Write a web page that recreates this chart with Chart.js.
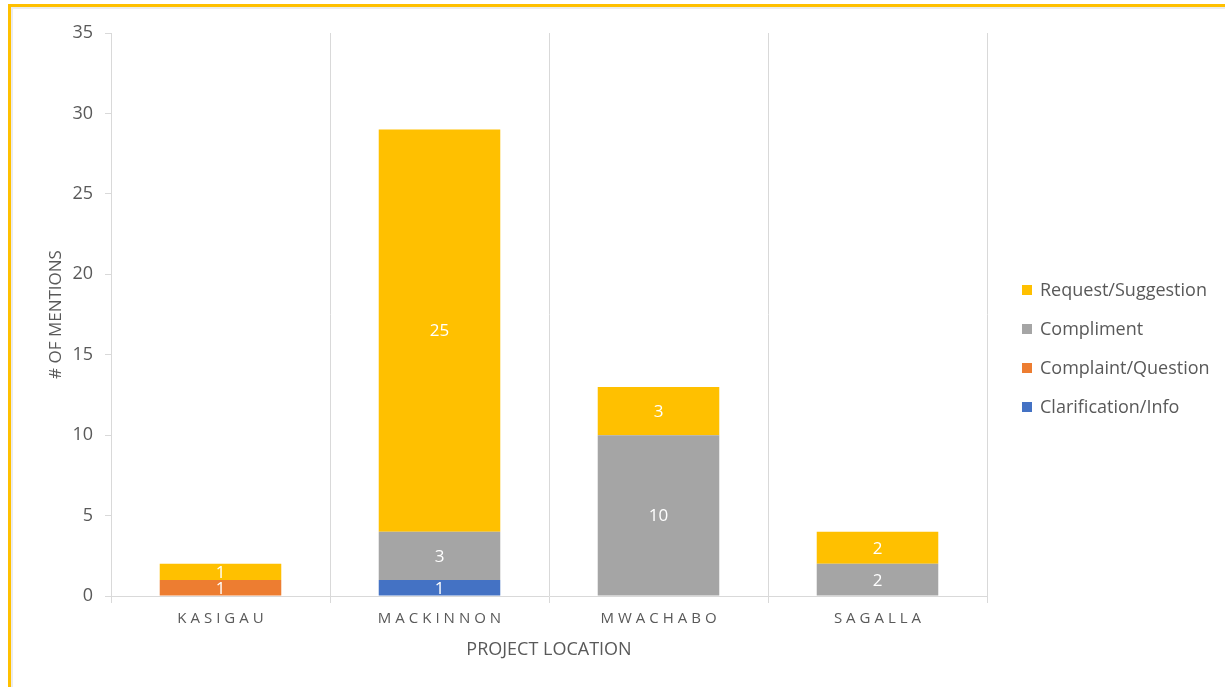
<!DOCTYPE html>
<html>
<head>
<meta charset="utf-8">
<script src="https://cdn.jsdelivr.net/npm/chart.js@4/dist/chart.umd.min.js"></script>
<style>
  html, body { margin: 0; padding: 0; background: #fff; }
  #wrap { position: relative; width: 1225px; height: 687px; overflow: hidden; }
  #frame { position: absolute; left: 8px; top: 4px; right: 0; bottom: 0;
           border-top: 3px solid #FFC000; border-left: 3px solid #FFC000; pointer-events: none; }
  #inner { position: absolute; left: 0; top: 0; right: 0; bottom: 0;
           border-top: 2px solid #ececec; border-left: 2px solid #ececec; }
  #legend { position: absolute; left: 1022px; top: 270px; font-family: 'Open Sans', sans-serif;
            font-size: 18px; color: #595959; }
  #legend .item { height: 39px; line-height: 39px; white-space: nowrap; position: relative; padding-left: 18px; }
  #legend .box { position: absolute; left: 0; top: 15px; width: 10px; height: 10px; }
</style>
</head>
<body>
<div id="wrap">
  <canvas id="myChart"></canvas>
  <div id="legend"></div>
  <div id="frame"><div id="inner"></div></div>
</div>
<script>
// categories and series
var locations = ["KASIGAU", "MACKINNON", "MWACHABO", "SAGALLA"];
var clarification = [0, 1, 0, 0];
var complaint = [1, 0, 0, 0];
var compliment = [0, 3, 10, 2];
var request = [1, 25, 3, 2];
var yTicks = [0, 5, 10, 15, 20, 25, 30, 35];

var textColor = "#595959";
var gridColor = "#d9d9d9";
var fontFamily = "'Open Sans', 'Noto Sans', sans-serif";

Chart.defaults.font.family = fontFamily;
Chart.defaults.color = textColor;

// white value labels in the middle of each segment
const barValues = {
  id: "barValues",
  afterDatasetsDraw(chart) {
    const ctx = chart.ctx;
    ctx.save();
    ctx.fillStyle = "#ffffff";
    ctx.font = "17px " + fontFamily;
    ctx.textAlign = "center";
    ctx.textBaseline = "middle";
    chart.data.datasets.forEach(function (ds, i) {
      const meta = chart.getDatasetMeta(i);
      meta.data.forEach(function (bar, j) {
        const v = ds.data[j];
        if (!v) return;
        ctx.fillText(String(v), bar.x, (bar.y + bar.base) / 2 + 1);
      });
    });
    ctx.restore();
  }
};

const chart = new Chart("myChart", {
  type: "bar",
  data: {
    labels: locations,
    datasets: [
      { label: "Clarification/Info", data: clarification, backgroundColor: "#4472C4" },
      { label: "Complaint/Question", data: complaint, backgroundColor: "#ED7D31" },
      { label: "Compliment", data: compliment, backgroundColor: "#A5A5A5" },
      { label: "Request/Suggestion", data: request, backgroundColor: "#FFC000" }
    ]
  },
  options: {
    responsive: true,
    maintainAspectRatio: false,
    animation: false,
    layout: { padding: { left: 12, top: 33, right: 238, bottom: 0 } },
    datasets: { bar: { categoryPercentage: 0.555, barPercentage: 1 } },
    scales: {
      x: {
        stacked: true,
        grid: { color: gridColor, offset: true, tickLength: 7 },
        border: { color: gridColor },
        ticks: {
          padding: 7,
          font: { size: 15 },
          callback: function (value) {
            return this.getLabelForValue(value).split("").join("\u2009\u200A");
          }
        },
        title: { display: true, text: "PROJECT LOCATION", font: { size: 18 }, padding: { top: 0, bottom: 26 } },
        afterFit: function (scale) { scale.height = 91; }
      },
      y: {
        stacked: true,
        min: 0,
        max: 35,
        afterBuildTicks: function (scale) {
          scale.ticks = yTicks.map(function (v) { return { value: v }; });
        },
        grid: { drawOnChartArea: false, color: gridColor, tickLength: 6 },
        border: { color: gridColor },
        ticks: { padding: 12, font: { size: 18 } },
        title: { display: true, text: "# OF MENTIONS", font: { size: 17 }, padding: { top: 34, bottom: 0 } },
        afterFit: function (scale) { scale.width = 99; }
      }
    },
    plugins: {
      legend: { display: false },
      tooltip: { enabled: false }
    }
  },
  plugins: [barValues]
});

// legend, top item is the last stacked series
const legend = document.getElementById("legend");
chart.data.datasets.slice().reverse().forEach(function (ds) {
  const item = document.createElement("div");
  item.className = "item";
  const box = document.createElement("span");
  box.className = "box";
  box.style.background = ds.backgroundColor;
  item.appendChild(box);
  item.appendChild(document.createTextNode(ds.label));
  legend.appendChild(item);
});
</script>
</body>
</html>
